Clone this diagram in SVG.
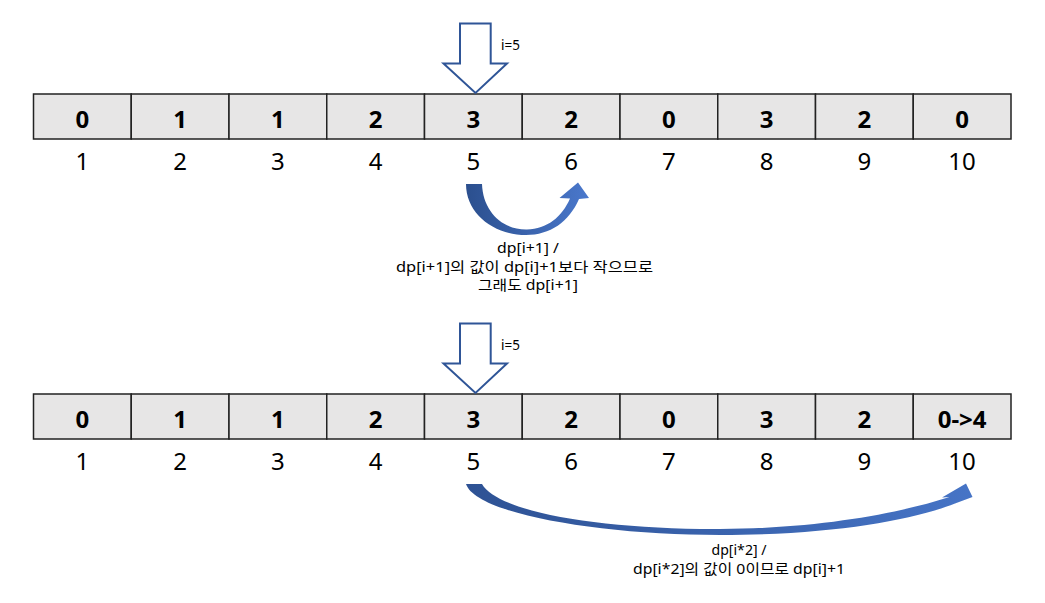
<svg xmlns="http://www.w3.org/2000/svg" width="1045" height="603" viewBox="0 0 1045 603">
<style>
.cell{fill:#E7E6E6;stroke:#222;stroke-width:1.5}
.val{font-family:"Noto Sans","Noto Sans CJK KR",sans-serif;font-weight:bold;font-size:24px;text-anchor:middle;fill:#000}
.idx{font-family:"Noto Sans","Noto Sans CJK KR",sans-serif;font-size:24px;text-anchor:middle;fill:#000}
.lbl{font-family:"Noto Sans","Noto Sans CJK KR",sans-serif;font-size:13.5px;text-anchor:middle;fill:#000}
.small{font-family:"Noto Sans","Noto Sans CJK KR",sans-serif;font-size:13.5px;fill:#000}
.down{fill:#fff;stroke:#2F5597;stroke-width:2;stroke-linejoin:miter}
</style>
<defs>
<linearGradient id="g1" x1="0" y1="0" x2="1" y2="0">
<stop offset="0" stop-color="#2B4F8E"/>
<stop offset="1" stop-color="#4A78CC"/>
</linearGradient>
<linearGradient id="g2" x1="0" y1="0" x2="1" y2="0">
<stop offset="0" stop-color="#2E5294"/>
<stop offset="1" stop-color="#4674C6"/>
</linearGradient>
</defs>
<rect width="1045" height="603" fill="#fff"/>

<!-- top row -->
<g id="row1">
<g id="r1c1"><rect class="cell" x="33.5" y="94" width="97.75" height="45"/><text class="val" x="82.4" y="127.5">0</text><text class="idx" x="82.4" y="170">1</text></g>
<g id="r1c2"><rect class="cell" x="131.25" y="94" width="97.75" height="45"/><text class="val" x="180.1" y="127.5">1</text><text class="idx" x="180.1" y="170">2</text></g>
<g id="r1c3"><rect class="cell" x="229" y="94" width="97.75" height="45"/><text class="val" x="277.9" y="127.5">1</text><text class="idx" x="277.9" y="170">3</text></g>
<g id="r1c4"><rect class="cell" x="326.75" y="94" width="97.75" height="45"/><text class="val" x="375.6" y="127.5">2</text><text class="idx" x="375.6" y="170">4</text></g>
<g id="r1c5"><rect class="cell" x="424.5" y="94" width="97.75" height="45"/><text class="val" x="473.4" y="127.5">3</text><text class="idx" x="473.4" y="170">5</text></g>
<g id="r1c6"><rect class="cell" x="522.25" y="94" width="97.75" height="45"/><text class="val" x="571.1" y="127.5">2</text><text class="idx" x="571.1" y="170">6</text></g>
<g id="r1c7"><rect class="cell" x="620" y="94" width="97.75" height="45"/><text class="val" x="668.9" y="127.5">0</text><text class="idx" x="668.9" y="170">7</text></g>
<g id="r1c8"><rect class="cell" x="717.75" y="94" width="97.75" height="45"/><text class="val" x="766.6" y="127.5">3</text><text class="idx" x="766.6" y="170">8</text></g>
<g id="r1c9"><rect class="cell" x="815.5" y="94" width="97.75" height="45"/><text class="val" x="864.4" y="127.5">2</text><text class="idx" x="864.4" y="170">9</text></g>
<g id="r1c10"><rect class="cell" x="913.25" y="94" width="97.75" height="45"/><text class="val" x="962.1" y="127.5">0</text><text class="idx" x="962.1" y="170">10</text></g>
</g>

<!-- bottom row -->
<g id="row2">
<g id="r2c1"><rect class="cell" x="33.5" y="394" width="97.75" height="45"/><text class="val" x="82.4" y="427.5">0</text><text class="idx" x="82.4" y="470">1</text></g>
<g id="r2c2"><rect class="cell" x="131.25" y="394" width="97.75" height="45"/><text class="val" x="180.1" y="427.5">1</text><text class="idx" x="180.1" y="470">2</text></g>
<g id="r2c3"><rect class="cell" x="229" y="394" width="97.75" height="45"/><text class="val" x="277.9" y="427.5">1</text><text class="idx" x="277.9" y="470">3</text></g>
<g id="r2c4"><rect class="cell" x="326.75" y="394" width="97.75" height="45"/><text class="val" x="375.6" y="427.5">2</text><text class="idx" x="375.6" y="470">4</text></g>
<g id="r2c5"><rect class="cell" x="424.5" y="394" width="97.75" height="45"/><text class="val" x="473.4" y="427.5">3</text><text class="idx" x="473.4" y="470">5</text></g>
<g id="r2c6"><rect class="cell" x="522.25" y="394" width="97.75" height="45"/><text class="val" x="571.1" y="427.5">2</text><text class="idx" x="571.1" y="470">6</text></g>
<g id="r2c7"><rect class="cell" x="620" y="394" width="97.75" height="45"/><text class="val" x="668.9" y="427.5">0</text><text class="idx" x="668.9" y="470">7</text></g>
<g id="r2c8"><rect class="cell" x="717.75" y="394" width="97.75" height="45"/><text class="val" x="766.6" y="427.5">3</text><text class="idx" x="766.6" y="470">8</text></g>
<g id="r2c9"><rect class="cell" x="815.5" y="394" width="97.75" height="45"/><text class="val" x="864.4" y="427.5">2</text><text class="idx" x="864.4" y="470">9</text></g>
<g id="r2c10"><rect class="cell" x="913.25" y="394" width="97.75" height="45"/><text class="val" x="962.1" y="427.5">0-&gt;4</text><text class="idx" x="962.1" y="470">10</text></g>
</g>

<!-- pointer arrows -->
<g id="pointer1">
<path class="down" d="M460 23.5 H490.7 V63.5 H507 L475.5 93 L443.5 63.5 H460 Z"/>
<text class="small" x="501" y="50">i=5</text>
</g>
<g id="pointer2">
<path class="down" d="M460 323.5 H490.7 V363.5 H507 L475.5 393 L443.5 363.5 H460 Z"/>
<text class="small" x="501" y="350">i=5</text>
</g>

<!-- connectors -->
<g id="connectors">
<path id="curve1" fill="url(#g1)" d="M466 184 C466 214 494 235 526 235 C550 235 569 222 579 199 L589 198 L578 182.5 L559.5 198 L570 198.5 C562 217 547 229 527 229.5 C503 230 483 212 482 184 Z"/>
<path id="curve2" fill="url(#g2)" d="M466 484 C476 514 600 535 720 535 C830 535 910 521 955 503.5 L972.5 497 L966 483.5 L942 497.5 L949.5 497 C900 513 820 528.5 720 529 C600 529.5 498 512 482 484 Z"/>
</g>

<!-- labels -->
<g id="label1">
<text class="lbl" x="528" y="253" textLength="62" lengthAdjust="spacingAndGlyphs">dp[i+1] /</text>
<text class="lbl" x="524.5" y="271.5" textLength="257" lengthAdjust="spacingAndGlyphs">dp[i+1]의 값이 dp[i]+1보다 작으므로</text>
<text class="lbl" x="528" y="290" textLength="100" lengthAdjust="spacingAndGlyphs">그래도 dp[i+1]</text>
</g>
<g id="label2">
<text class="lbl" x="739" y="555" textLength="55" lengthAdjust="spacingAndGlyphs">dp[i*2] /</text>
<text class="lbl" x="739" y="573.5" textLength="212" lengthAdjust="spacingAndGlyphs">dp[i*2]의 값이 0이므로 dp[i]+1</text>
</g>
</svg>
